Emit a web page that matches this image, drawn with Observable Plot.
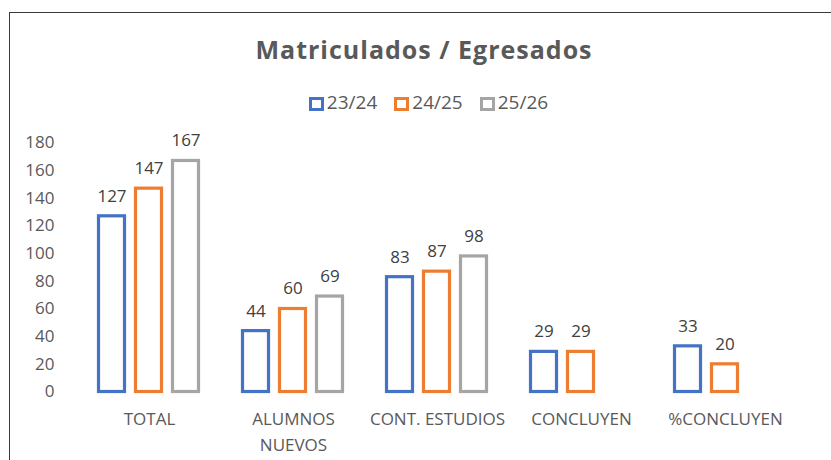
<!DOCTYPE html>
<html><head><meta charset="utf-8">
<script src="https://cdn.jsdelivr.net/npm/d3@7"></script>
<script src="https://cdn.jsdelivr.net/npm/@observablehq/plot@0.6"></script>
<style>
body{margin:0;background:#fff;font-family:"Open Sans",sans-serif;}
#wrap{position:relative;width:831px;height:460px;overflow:hidden;background:#fff;}
#frame{position:absolute;left:9px;top:12px;width:840px;height:470px;border-top:1.5px solid #3a3a3a;border-left:1.5px solid #3a3a3a;box-sizing:border-box;pointer-events:none;}
#title{height:40px;padding-top:35px;padding-left:17px;line-height:28px;font-size:25px;letter-spacing:1px;font-weight:bold;color:#595959;text-align:center;}
#legend{height:33px;padding-top:10px;padding-left:26px;line-height:20px;font-size:19px;color:#595959;display:flex;justify-content:center;align-items:center;}
.item{display:flex;align-items:center;margin:0 8.5px;}
.sw{width:15px;height:14px;box-sizing:border-box;border:3px solid;background:#fff;margin-right:3px;position:relative;top:2px;}
#chart svg{display:block;}
</style></head>
<body><div id="wrap"><div id="title">Matriculados / Egresados</div><div id="legend"></div><div id="chart"></div><div id="frame"></div></div>
<script>
const categories = ["TOTAL","ALUMNOS NUEVOS","CONT. ESTUDIOS","CONCLUYEN","%CONCLUYEN"];
const tickLabels = ["TOTAL","ALUMNOS\nNUEVOS","CONT. ESTUDIOS","CONCLUYEN","%CONCLUYEN"];
const seriesNames = ["23/24","24/25","25/26"];
const values2324 = [127,44,83,29,33];
const values2425 = [147,60,87,29,20];
const values2526 = [167,69,98,null,null];
const seriesColors = ["#4472C4","#ED7D31","#A5A5A5"];
const yTicks = [0,20,40,60,80,100,120,140,160,180];

const rows = [];
[values2324, values2425, values2526].forEach((vals, si) =>
  vals.forEach((v, ci) => rows.push({category: categories[ci], series: seriesNames[si], value: v})));
const defined = rows.filter(d => d.value != null);

const legend = document.getElementById("legend");
seriesNames.forEach((s, i) => {
  const it = document.createElement("div"); it.className = "item";
  const sw = document.createElement("span"); sw.className = "sw"; sw.style.borderColor = seriesColors[i];
  const t = document.createElement("span"); t.textContent = s;
  it.appendChild(sw); it.appendChild(t); legend.appendChild(it);
});

const chart = Plot.plot({
  width: 831, height: 342,
  marginTop: 24.5, marginBottom: 68.5, marginLeft: 57, marginRight: 14,
  style: {fontFamily: "Open Sans", background: "white", overflow: "visible"},
  fx: {domain: categories, paddingInner: 0.266, paddingOuter: 0.266, label: null},
  x: {domain: seriesNames, paddingInner: 0.2105, paddingOuter: 0, axis: null},
  y: {domain: [0, 180]},
  color: {domain: seriesNames, range: seriesColors},
  marks: [
    Plot.barY(defined, {fx: "category", x: "series", y: "value", fill: "white", stroke: "series", strokeWidth: 3.2, insetLeft: 1.5, insetRight: 1.5}),
    Plot.text(defined, {fx: "category", x: "series", y: "value", text: d => String(d.value), dy: -20, fontSize: 17, fill: "#404040"}),
    Plot.axisFx({anchor: "bottom", tickSize: 0, tickPadding: 15, fontSize: 17, lineHeight: 1.53, color: "#595959", label: null,
      tickFormat: d => tickLabels[categories.indexOf(d)]}),
    Plot.axisY({ticks: yTicks, tickSize: 0, tickPadding: 42, fontSize: 17, color: "#595959", label: null})
  ]
});
document.getElementById("chart").appendChild(chart);
</script></body></html>
